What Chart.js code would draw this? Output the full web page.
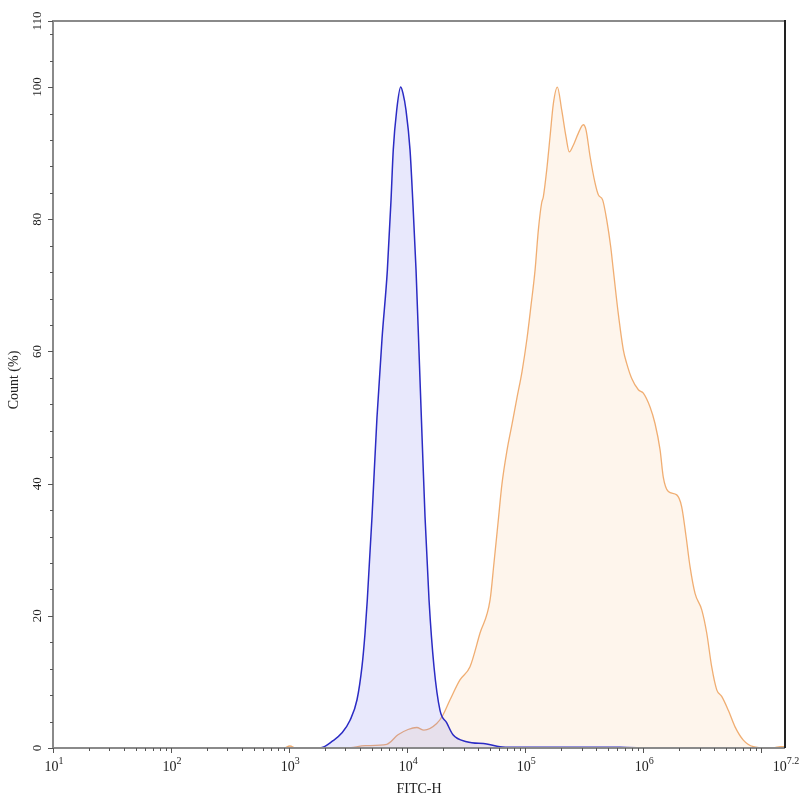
<!DOCTYPE html>
<html>
<head>
<meta charset="utf-8">
<script src="https://cdn.jsdelivr.net/npm/chart.js@4/dist/chart.umd.min.js"></script>
<style>
html,body{margin:0;padding:0;background:#fff;}
#c{display:block;}
</style>
</head>
<body>
<canvas id="c" width="800" height="800" style="width:800px;height:800px"></canvas>
<script>
// x values are log10(FITC-H)
const blueX = [2.974,3.262,3.372,3.448,3.516,3.575,3.617,3.643,3.662,3.702,3.744,3.787,3.832,3.863,3.882,3.911,3.945,3.965,3.990,4.024,4.047,4.075,4.100,4.126,4.151,4.185,4.227,4.278,4.335,4.388,4.504,4.674,4.786,4.896,5.125,5.464,5.803,6.014];
const blueY = [0,0,1.1,2.3,4.2,7.3,12.3,17.4,22.4,35,50,62,72.3,82.9,90.5,96.5,100,99,96.5,90.5,82.9,72.3,60,47,35,22.4,12.3,5.7,3.8,2,0.95,0.6,0.2,0.12,0.12,0.12,0.1,0];

const orangeX = [2.965,3.007,3.058,3.488,3.643,3.827,3.922,4.007,4.081,4.142,4.250,4.303,4.363,4.447,4.532,4.617,4.702,4.735,4.769,4.803,4.845,4.888,4.930,4.973,5.015,5.049,5.083,5.111,5.139,5.153,5.182,5.210,5.238,5.272,5.309,5.345,5.373,5.407,5.449,5.492,5.515,5.549,5.591,5.619,5.656,5.690,5.724,5.746,5.786,5.831,5.859,5.902,5.958,6.000,6.057,6.099,6.142,6.169,6.212,6.283,6.325,6.362,6.396,6.438,6.495,6.537,6.579,6.622,6.664,6.720,6.777,6.847,6.932,7.045,7.115,7.158,7.2];
const orangeY = [0,0.3,0,0,0.35,0.56,2,2.8,3.1,2.7,3.7,5,7.3,10.3,12.3,17.4,22.4,28,34,40,45,49,53,57,62,67,72.3,78.4,82.5,83.4,87.5,92.5,97.5,100,96.5,92.5,90.2,91.2,93,94.3,93.5,89.5,85.5,83.7,82.9,79.9,75.8,72.3,66,60.2,58.2,55.9,54.2,53.7,51.6,49.1,45.1,41.0,38.8,38.3,36.5,32.0,27.4,23.4,20.9,17.4,12.3,8.8,7.8,5.7,3.2,1.2,0.2,0,0.05,0.2,0.2];

const xLabelExps = [1,2,3,4,5,6,7.2];
const xLabelTexts = ['1','2','3','4','5','6','7.2'];
const yLabelValues = [0,20,40,60,80,100,110];
const xTitle = 'FITC-H';
const yTitle = 'Count (%)';

const FONT = '"Liberation Serif","DejaVu Serif",serif';

const axesPlugin = {
  id: 'axesPlugin',
  afterDraw(chart) {
    const {ctx, chartArea: a, scales: {x, y}} = chart;
    ctx.save();
    // frame
    ctx.lineWidth = 2;
    ctx.strokeStyle = '#8a8a8a';
    ctx.beginPath();
    ctx.moveTo(a.left, a.bottom); ctx.lineTo(a.left, a.top); ctx.lineTo(a.right, a.top);
    ctx.moveTo(a.left, a.bottom); ctx.lineTo(a.right, a.bottom);
    ctx.stroke();
    ctx.strokeStyle = '#222';
    ctx.beginPath();
    ctx.moveTo(a.right, a.top - 1); ctx.lineTo(a.right, a.bottom);
    ctx.stroke();

    // x ticks
    ctx.strokeStyle = '#555';
    ctx.lineWidth = 1;
    ctx.beginPath();
    for (let n = 1; n <= 7; n++) {
      for (let k = 1; k <= 9; k++) {
        const v = n + Math.log10(k);
        if (v > 7.2) break;
        const px = Math.round(x.getPixelForValue(v)) + 0.5;
        const len = k === 1 ? 5 : 3;
        ctx.moveTo(px, a.bottom); ctx.lineTo(px, a.bottom + len);
      }
    }
    // y ticks
    for (let v = 0; v <= 110; v += 2) {
      const isMajor = v % 20 === 0 || v === 110;
      const isMinor = v % 4 === 0;
      if (!isMajor && !isMinor) continue;
      const py = Math.round(y.getPixelForValue(v)) + 0.5;
      const len = isMajor ? 5 : 3;
      ctx.moveTo(a.left, py); ctx.lineTo(a.left - len, py);
    }
    ctx.stroke();

    // x labels
    ctx.fillStyle = '#222';
    ctx.textBaseline = 'alphabetic';
    xLabelExps.forEach((e, i) => {
      const px = x.getPixelForValue(e);
      ctx.font = '14px ' + FONT;
      const wBase = ctx.measureText('10').width;
      ctx.font = '10px ' + FONT;
      const wExp = ctx.measureText(xLabelTexts[i]).width;
      const start = px - (wBase + wExp) / 2 + 1;
      ctx.font = '14px ' + FONT;
      ctx.textAlign = 'left';
      ctx.fillText('10', start, 771);
      ctx.font = '10px ' + FONT;
      ctx.fillText(xLabelTexts[i], start + wBase, 764);
    });

    // y labels (rotated)
    ctx.font = '13px ' + FONT;
    ctx.textAlign = 'center';
    yLabelValues.forEach(v => {
      const py = y.getPixelForValue(v);
      ctx.save();
      ctx.translate(41, py);
      ctx.rotate(-Math.PI / 2);
      ctx.fillText(String(v), 0, 0);
      ctx.restore();
    });

    // titles
    ctx.font = '14px ' + FONT;
    ctx.textAlign = 'center';
    ctx.fillText(xTitle, 419, 793);
    ctx.save();
    ctx.translate(18, 380);
    ctx.rotate(-Math.PI / 2);
    ctx.fillText(yTitle, 0, 0);
    ctx.restore();
    ctx.restore();
  }
};

new Chart(document.getElementById('c'), {
  type: 'line',
  data: {
    datasets: [
      {
        data: blueX.map((v, i) => ({x: v, y: blueY[i]})),
        borderColor: '#2b2bc4',
        backgroundColor: 'rgba(120,120,240,0.17)',
        borderWidth: 1.5,
        fill: 'origin',
        pointRadius: 0,
        cubicInterpolationMode: 'monotone'
      },
      {
        data: orangeX.map((v, i) => ({x: v, y: orangeY[i]})),
        borderColor: 'rgba(238,165,100,0.9)',
        backgroundColor: 'rgba(250,205,160,0.2)',
        borderWidth: 1.3,
        fill: 'origin',
        pointRadius: 0,
        cubicInterpolationMode: 'monotone'
      }
    ]
  },
  options: {
    responsive: false,
    animation: false,
    layout: {padding: {top: 21, right: 15, left: 0, bottom: 0}},
    plugins: {legend: {display: false}, tooltip: {enabled: false}},
    scales: {
      x: {
        type: 'linear', min: 1, max: 7.2,
        grid: {display: false},
        border: {display: false},
        ticks: {display: false},
        afterFit(s) { s.height = 52; }
      },
      y: {
        type: 'linear', min: 0, max: 110,
        grid: {display: false},
        border: {display: false},
        ticks: {display: false},
        afterFit(s) { s.width = 53; }
      }
    }
  },
  plugins: [axesPlugin]
});
</script>
</body>
</html>
